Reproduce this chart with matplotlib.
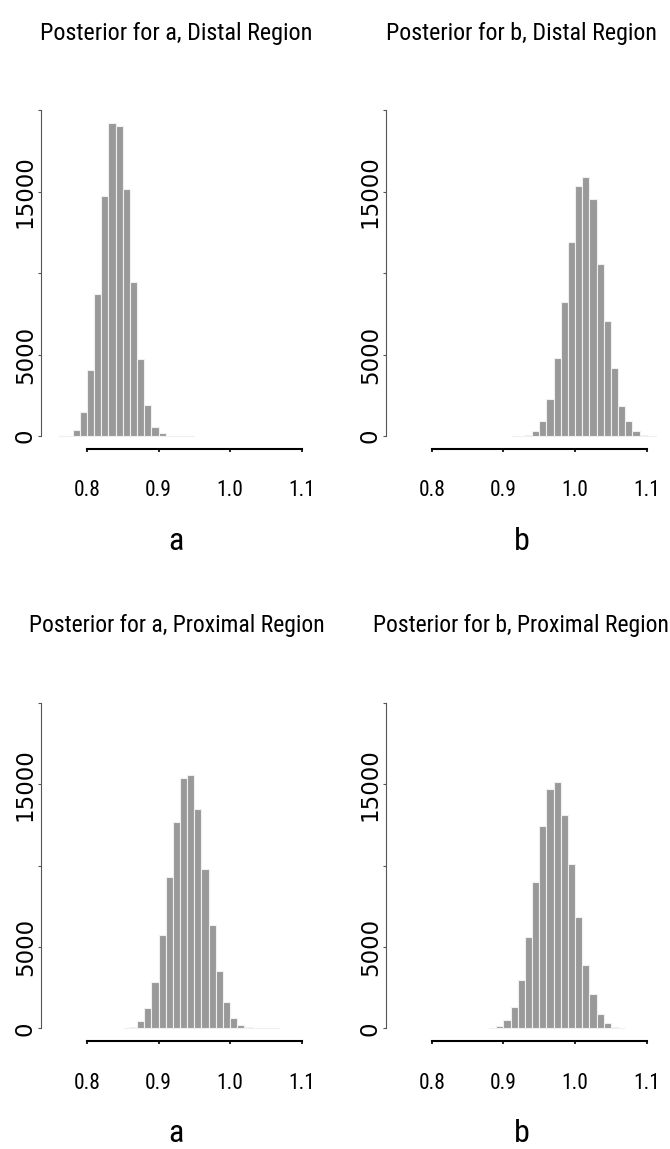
import numpy as np
import matplotlib
matplotlib.use("Agg")
import matplotlib.pyplot as plt
from matplotlib import font_manager as fm

# histogram counts, bin width 0.01
BIN_WIDTH = 0.01

A_DISTAL_START = 0.76
A_DISTAL_COUNTS = [2, 30, 350, 1500, 4070, 8700, 14720, 19200, 19020, 15170,
                   9440, 4730, 1920, 530, 180, 25, 3, 1, 0]

B_DISTAL_START = 0.91
B_DISTAL_COUNTS = [1, 5, 40, 330, 900, 2250, 4810, 8250, 11910, 15350, 15930,
                   14560, 10560, 7040, 4200, 1860, 920, 290, 50, 8, 1]

A_PROX_START = 0.85
A_PROX_COUNTS = [15, 100, 470, 1250, 2870, 5760, 9280, 12700, 15410, 15550,
                 13480, 9800, 6370, 3530, 1640, 640, 225, 60, 12, 3, 1, 0]

B_PROX_START = 0.88
B_PROX_COUNTS = [20, 120, 510, 1310, 2970, 5590, 8980, 12420, 14710, 15120,
                 13140, 10120, 6840, 3890, 2110, 900, 310, 100, 25]

TITLES = ["Posterior for a, Distal Region", "Posterior for b, Distal Region",
          "Posterior for a, Proximal Region", "Posterior for b, Proximal Region"]
XLABELS = ["a", "b", "a", "b"]
X_TICKS = [0.8, 0.9, 1.0, 1.1]
X_TICK_LABELS = ["0.8", "0.9", "1.0", "1.1"]
Y_TICKS = [0, 5000, 10000, 15000, 20000]
Y_TICK_LABELS = ["0", "5000", "", "15000", ""]

BAR_COLOR = "#999999"
BAR_EDGE = "#f0f0f0"


def narrow_font_file():
    files = [f.fname for f in fm.fontManager.ttflist]
    for key in ["NotoSans-ExtraCondensed.", "LiberationSansNarrow-Regular",
                "RobotoCondensed-Regular", "NotoSans-Condensed.",
                "DejaVuSansCondensed.", "LiberationSans-Regular"]:
        for path in files:
            if key in path:
                return path
    return None


NARROW = narrow_font_file()


def narrow(size):
    if NARROW:
        return fm.FontProperties(fname=NARROW, size=size)
    return fm.FontProperties(family="Liberation Sans", size=size)


def fit_width(fig, text, target_px):
    # shrink/grow a text so its drawn width matches the reference
    renderer = fig.canvas.get_renderer()
    width = text.get_window_extent(renderer).width
    if width > 0:
        text.set_fontsize(text.get_fontsize() * target_px / width)


def draw_hist(ax, start, counts, title, xlabel):
    counts = np.array(counts)
    lefts = np.round(start + BIN_WIDTH * np.arange(len(counts)), 3)
    ax.bar(lefts, counts, width=BIN_WIDTH, align="edge", color=BAR_COLOR,
           edgecolor=BAR_EDGE, linewidth=0.8)
    ax.set_xlim(0.736, 1.114)
    ax.set_ylim(-800, 20800)

    for side in ["top", "right"]:
        ax.spines[side].set_visible(False)
    ax.spines["left"].set_bounds(0, 20000)
    ax.spines["left"].set_color("#555555")
    ax.spines["left"].set_linewidth(0.8)
    ax.spines["bottom"].set_bounds(0.8, 1.1)
    ax.spines["bottom"].set_linewidth(1.5)

    ax.set_xticks(X_TICKS)
    ax.set_xticklabels(X_TICK_LABELS)
    ax.set_yticks(Y_TICKS)
    ax.set_yticklabels(Y_TICK_LABELS, rotation=90, va="center", ha="right",
                       family="DejaVu Sans", fontsize=16.5)
    ax.tick_params(axis="x", length=2, width=1.2, pad=20.5)
    ax.tick_params(axis="y", length=2, width=0.8, color="#555555", pad=1)
    for lab in ax.get_xticklabels():
        lab.set_fontproperties(narrow(15.5))

    title_text = ax.set_title(title, fontproperties=narrow(18), pad=41.5)
    ax.annotate(xlabel, xy=(0.5, 0), xycoords="axes fraction",
                xytext=(0, -72.5), textcoords="offset points",
                ha="center", va="baseline", fontproperties=narrow(23))
    return title_text


def main():
    fig = plt.figure(figsize=(6.7, 11.49), dpi=100)
    w = 0.4042
    h = 0.3060
    positions = [(0.0612, 0.6092), (0.5761, 0.6092),
                 (0.0612, 0.0936), (0.5761, 0.0936)]
    data = [(A_DISTAL_START, A_DISTAL_COUNTS), (B_DISTAL_START, B_DISTAL_COUNTS),
            (A_PROX_START, A_PROX_COUNTS), (B_PROX_START, B_PROX_COUNTS)]
    title_widths = [272, 272, 296, 296]
    titles = []
    for (x0, y0), (start, counts), title, xl in zip(positions, data, TITLES, XLABELS):
        ax = fig.add_axes([x0, y0, w, h])
        titles.append(draw_hist(ax, start, counts, title, xl))
    for t, tw in zip(titles, title_widths):
        fit_width(fig, t, tw)
    fig.savefig("out.png", dpi=100)


if __name__ == "__main__":
    main()
